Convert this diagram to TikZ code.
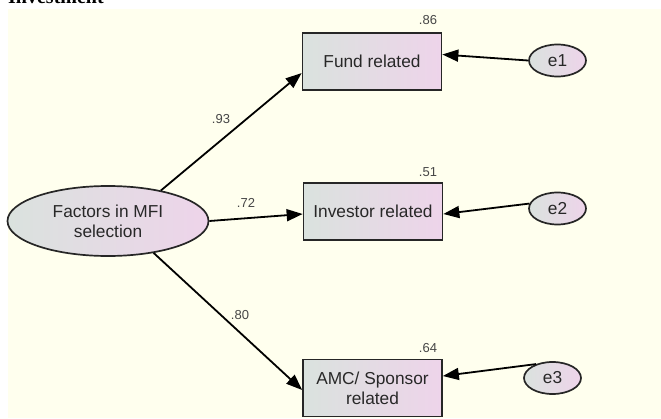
\documentclass[tikz,border=0pt]{standalone}
\usepackage{fontspec}
\setmainfont{Liberation Sans}
\newfontfamily\headfont{Liberation Serif}
\usetikzlibrary{arrows.meta,shapes.geometric}
\definecolor{cream}{RGB}{255,255,238}
\definecolor{lgray}{RGB}{218,226,222}
\definecolor{lpink}{RGB}{238,212,234}
\definecolor{txt}{RGB}{40,40,40}
\definecolor{lbl}{RGB}{70,70,70}
\tikzset{
  obs/.style={draw=black!85, line width=1.7pt, rectangle, left color=lgray, right color=lpink,
    minimum width=139pt, minimum height=57pt, font=\fontsize{17.3}{20}\selectfont, text=txt, align=center, inner sep=0pt},
  lat/.style={draw=black!85, line width=1.7pt, ellipse, left color=lgray, right color=lpink,
    minimum width=201pt, minimum height=70pt, font=\fontsize{17.3}{20}\selectfont, text=txt, align=center, inner sep=0pt},
  err/.style={draw=black!85, line width=1.7pt, ellipse, left color=lgray, right color=lpink,
    minimum width=57pt, minimum height=32pt, font=\fontsize{17.3}{20}\selectfont, text=txt, inner sep=0pt},
  path/.style={draw=black, line width=1.8pt, -{Triangle[length=16pt,width=12pt]}},
  coef/.style={font=\fontsize{13}{15}\selectfont, text=lbl, inner sep=0pt}
}
\begin{document}
\begin{tikzpicture}[x=1pt,y=-1pt]
\useasboundingbox (0,0) rectangle (661,418);
\clip (0,0) rectangle (661,418);
\fill[white] (0,0) rectangle (661,418);
\fill[cream] (8,9) rectangle (661,418);
\node[anchor=base west, inner sep=0pt, font=\headfont\bfseries\fontsize{20}{22}\selectfont] (head) at (8,3) {Investment};

\node[lat] (fac) at (108,221) {Factors in MFI\\selection};
\node[obs] (fund) at (372,61.5) {Fund related};
\node[obs] (inv) at (373,211.5) {Investor related};
\node[obs, text depth=0pt] (amc) at (372.5,388) {AMC/ Sponsor\\related};
\node[err] (e1) at (557.5,60.5) {e1};
\node[err] (e2) at (557.5,208.5) {e2};
\node[err] (e3) at (552.5,378) {e3};

\draw[path] (fac.30) -- ([yshift=-11.5pt]fund.west);
\draw[path] (fac.east) -- ([yshift=-2.5pt]inv.west);
\draw[path] (fac.-35) -- ([yshift=-2pt]amc.west);
\draw[path] (e1.west) -- ([yshift=7pt]fund.east);
\draw[path] (e2.170) -- ([yshift=-2.5pt]inv.east);
\draw[path] (e3.140) -- ([yshift=12pt]amc.east);

\node[coef] (l93) at (221,119) {.93};
\node[coef] (l72) at (246,203) {.72};
\node[coef] (l80) at (240,315) {.80};
\node[coef] (l86) at (428,20) {.86};
\node[coef] (l51) at (428,172) {.51};
\node[coef] (l64) at (428,348) {.64};
\end{tikzpicture}
\end{document}
